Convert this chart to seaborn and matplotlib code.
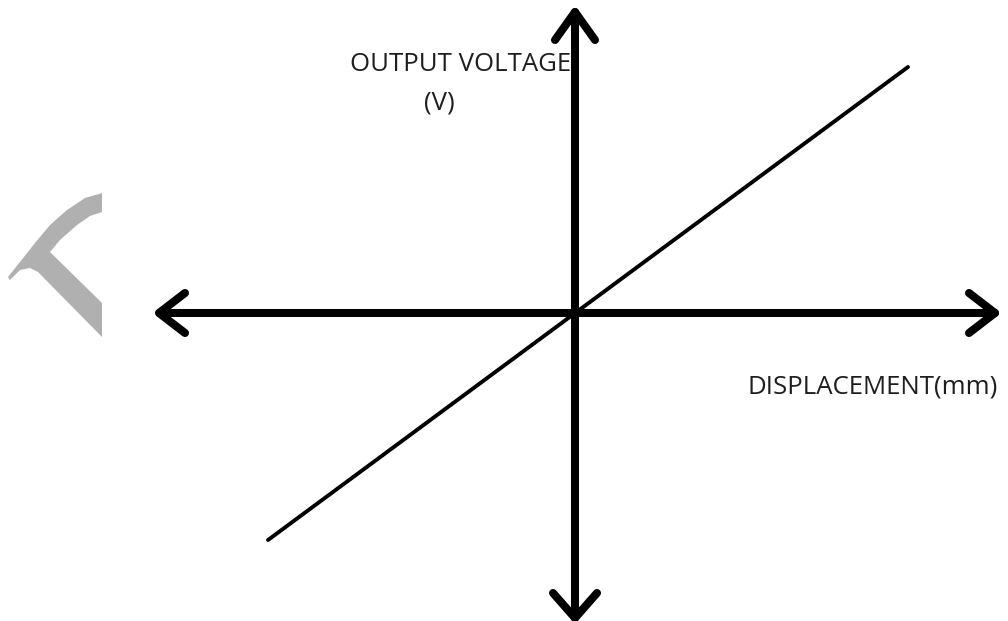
import matplotlib
matplotlib.use("Agg")
import matplotlib.pyplot as plt
import seaborn as sns
import pandas as pd
import numpy as np

# Data (units: arbitrary; origin at the axis crossing)
displacement = [-3.07, 3.33]
voltage = [-2.27, 2.46]
x_label = "DISPLACEMENT(mm)"
y_label_top = "OUTPUT VOLTAGE"
y_label_unit = "(V)"

sns.set_style("white")
plt.rcParams['font.family'] = ['Open Sans', 'DejaVu Sans']

fig = plt.figure(figsize=(10.08, 6.21), dpi=100)
ax = fig.add_axes([0, 0, 1, 1])
ax.set_xlim(-5.75, 4.33)
ax.set_ylim(-3.08, 3.13)
ax.axis("off")

df = pd.DataFrame({"Displacement": displacement, "Voltage": voltage})
sns.lineplot(data=df, x="Displacement", y="Voltage", ax=ax, color="black",
             linewidth=2.8, legend=False)

axis_kw = dict(color="black", linewidth=5.8, solid_capstyle="round", solid_joinstyle="round")
# horizontal axis
ax.plot([-4.15, 4.20], [0, 0], **axis_kw)
# vertical axis
ax.plot([0, 0], [-3.05, 3.01], **axis_kw)
# arrowheads (chevrons)
ax.plot([3.94, 4.20, 3.94], [0.20, 0, -0.20], **axis_kw)
ax.plot([-3.90, -4.16, -3.90], [0.20, 0, -0.20], **axis_kw)
ax.plot([-0.20, 0, 0.20], [2.73, 3.01, 2.73], **axis_kw)
ax.plot([-0.22, 0, 0.22], [-2.80, -3.05, -2.80], **axis_kw)

# faint watermark fragment at the left edge
wm = np.array([[-4.73, 1.20], [-4.90, 1.15], [-5.08, 1.03], [-5.25, 0.88],
               [-5.40, 0.70], [-5.55, 0.51], [-5.67, 0.36], [-5.65, 0.33],
               [-5.55, 0.43], [-5.45, 0.45], [-5.37, 0.41], [-4.73, -0.24],
               [-4.73, 0.10], [-5.25, 0.61], [-5.15, 0.73], [-4.98, 0.88],
               [-4.85, 0.97], [-4.73, 1.01]])
ax.fill(wm[:, 0], wm[:, 1], color="#b0b0b0", lw=0)

txt_kw = dict(fontsize=18.5, color="#1e1e1e", va="baseline")
ax.text(-2.25, 2.42, y_label_top, ha="left", **txt_kw)
ax.text(-1.36, 2.03, y_label_unit, ha="center", **txt_kw)
ax.text(1.73, -0.80, x_label, ha="left", **txt_kw)

fig.savefig("out.png", dpi=100)
